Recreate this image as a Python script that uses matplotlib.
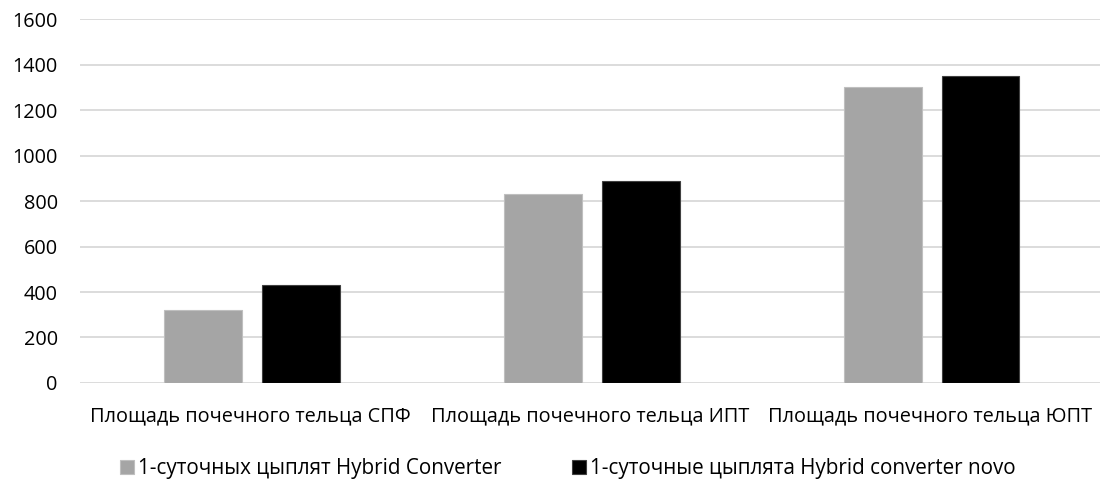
import matplotlib
matplotlib.use("Agg")
import matplotlib.pyplot as plt
import numpy as np

plt.rcParams['font.family'] = ['Open Sans', 'DejaVu Sans']

# data
categories = ["Площадь почечного тельца СПФ",
              "Площадь почечного тельца ИПТ",
              "Площадь почечного тельца ЮПТ"]
series_names = ["1-суточных цыплят Hybrid Converter",
                "1-суточные цыплята Hybrid converter novo"]
gray_vals = [321, 831, 1302]
black_vals = [429, 889, 1348]
yticks = [0, 200, 400, 600, 800, 1000, 1200, 1400, 1600]

fig = plt.figure(figsize=(11.11, 4.79), dpi=100)
ax = fig.add_axes([0.072, 0.2005, 0.918, 0.7595])

x = np.arange(len(categories))
w = 0.227
ax.bar(x - 0.138, gray_vals, w, color='#a5a5a5', edgecolor='#bfbfbf', linewidth=0.8,
       label=series_names[0], zorder=3)
ax.bar(x + 0.150, black_vals, w, color='#000000', edgecolor='#404040', linewidth=0.8,
       label=series_names[1], zorder=3)

ax.set_xlim(-0.5, 2.5)
ax.set_ylim(0, 1600)
ax.set_yticks(yticks)
ax.set_xticks(x)
ax.set_xticklabels(categories)
ax.tick_params(axis='both', length=0, labelsize=14.3, colors='#000000')
ax.tick_params(axis='x', pad=17)
ax.tick_params(axis='y', pad=16)
ax.grid(axis='y', color='#d9d9d9', linewidth=1.3, zorder=0)
for s in ax.spines.values():
    s.set_visible(False)

fig.legend(loc='center left', bbox_to_anchor=(0.108, 0.022), ncol=2, frameon=False,
           fontsize=14.9, handlelength=0.68, handleheight=0.68, handletextpad=0.2,
           columnspacing=3.4, borderpad=0, borderaxespad=0)

fig.savefig("out.png", dpi=100)
